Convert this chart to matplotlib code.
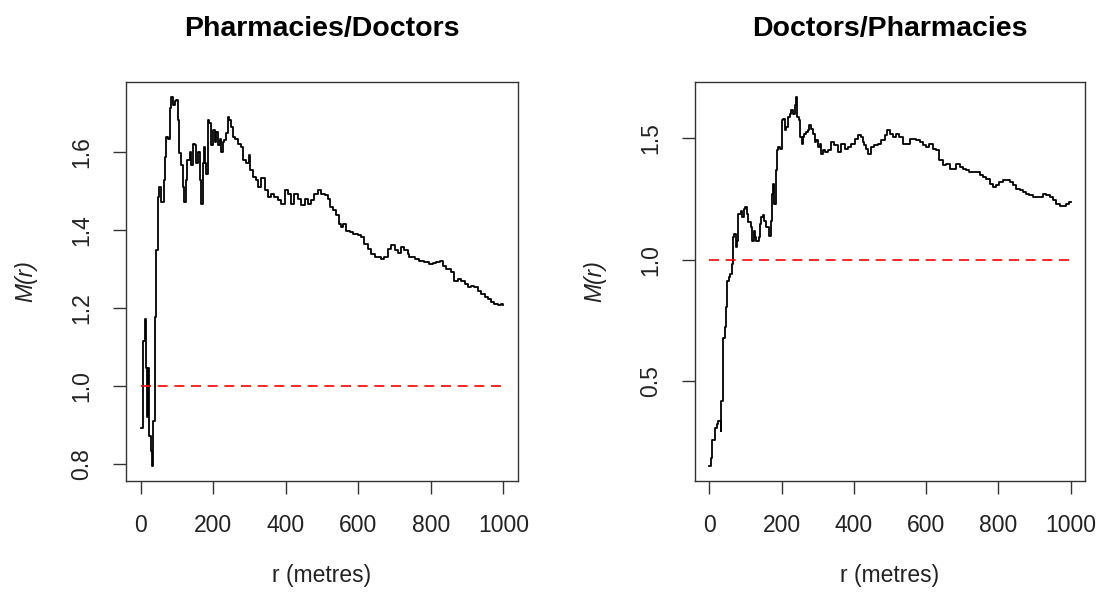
import numpy as np
import matplotlib
matplotlib.use('Agg')
import matplotlib.pyplot as plt

plt.rcParams['font.family'] = ['Liberation Sans', 'DejaVu Sans']

# Pharmacies/Doctors  M(r)
r_pd = [0, 6, 8, 13, 16, 18, 20, 22, 28, 31, 34, 39, 43, 48, 52, 57, 64, 68, 71, 77, 80, 85, 89,
        94, 98, 103, 106, 112, 117, 121, 124, 129, 135, 138, 144, 149, 153, 158, 163, 167, 172,
        174, 178, 181, 186, 190, 195, 199, 204, 208, 213, 218, 222, 227, 231, 236, 241, 245, 250,
        254, 259, 268, 277, 282, 291, 300, 303, 310, 319, 323, 332, 342, 351, 360, 369, 378, 388,
        397, 406, 415, 424, 433, 443, 452, 461, 470, 479, 488, 498, 507, 516, 521, 530, 539, 548,
        553, 557, 567, 576, 585, 599, 608, 617, 626, 635, 645, 654, 663, 672, 681, 690, 700, 709,
        718, 727, 736, 741, 755, 768, 782, 796, 805, 815, 824, 833, 842, 856, 865, 874, 883, 893,
        902, 911, 920, 929, 938, 948, 957, 966, 975, 984, 993, 1000]
m_pd = [0.891, 0.891, 1.116, 1.171, 1.047, 0.919, 1.047, 0.871, 0.833, 0.794, 0.910, 1.176, 1.347,
        1.484, 1.510, 1.471, 1.527, 1.587, 1.638, 1.634, 1.711, 1.741, 1.720, 1.731, 1.733, 1.681,
        1.596, 1.566, 1.510, 1.471, 1.527, 1.578, 1.600, 1.566, 1.621, 1.617, 1.570, 1.600, 1.527,
        1.467, 1.570, 1.613, 1.570, 1.544, 1.681, 1.673, 1.617, 1.656, 1.625, 1.651, 1.617, 1.634,
        1.600, 1.625, 1.630, 1.647, 1.690, 1.681, 1.664, 1.638, 1.634, 1.621, 1.613, 1.578, 1.570,
        1.591, 1.553, 1.536, 1.527, 1.510, 1.532, 1.501, 1.484, 1.493, 1.484, 1.476, 1.467, 1.501,
        1.493, 1.467, 1.493, 1.480, 1.463, 1.480, 1.467, 1.476, 1.493, 1.503, 1.493, 1.488, 1.480,
        1.458, 1.450, 1.437, 1.416, 1.407, 1.416, 1.398, 1.394, 1.390, 1.386, 1.381, 1.364, 1.351,
        1.338, 1.330, 1.330, 1.326, 1.330, 1.351, 1.360, 1.347, 1.340, 1.356, 1.347, 1.338, 1.330,
        1.326, 1.321, 1.317, 1.313, 1.314, 1.317, 1.321, 1.308, 1.300, 1.291, 1.270, 1.274, 1.270,
        1.261, 1.253, 1.257, 1.253, 1.244, 1.236, 1.227, 1.223, 1.214, 1.210, 1.206, 1.210, 1.206]

# Doctors/Pharmacies  M(r)
r_dp = [0, 5, 7, 12, 16, 21, 25, 31, 32, 37, 42, 46, 49, 55, 58, 62, 66, 69, 73, 77, 80, 86, 90,
        95, 99, 104, 108, 114, 117, 123, 127, 130, 136, 139, 143, 148, 152, 157, 162, 166, 171,
        174, 176, 180, 184, 187, 191, 195, 200, 204, 208, 212, 217, 222, 226, 231, 236, 240, 243,
        247, 252, 256, 260, 263, 268, 272, 277, 282, 286, 291, 296, 300, 305, 309, 314, 319, 328,
        337, 346, 356, 365, 374, 383, 392, 402, 411, 420, 425, 429, 434, 440, 448, 457, 466, 476,
        485, 492, 499, 508, 517, 526, 536, 545, 554, 563, 573, 582, 591, 600, 609, 619, 628, 637,
        646, 656, 665, 674, 683, 693, 702, 711, 720, 730, 739, 748, 757, 766, 776, 785, 794, 803,
        813, 822, 831, 840, 850, 859, 868, 877, 886, 896, 905, 914, 923, 933, 942, 951, 960, 970,
        979, 988, 997, 1000]
m_dp = [0.149, 0.183, 0.259, 0.259, 0.307, 0.321, 0.335, 0.294, 0.418, 0.679, 0.721, 0.803, 0.913,
        0.927, 0.941, 0.982, 1.092, 1.106, 1.051, 1.078, 1.188, 1.202, 1.174, 1.209, 1.216, 1.188,
        1.154, 1.134, 1.078, 1.120, 1.092, 1.078, 1.092, 1.147, 1.175, 1.182, 1.161, 1.134, 1.134,
        1.099, 1.161, 1.271, 1.313, 1.230, 1.368, 1.450, 1.464, 1.457, 1.574, 1.581, 1.533, 1.547,
        1.588, 1.602, 1.616, 1.602, 1.636, 1.671, 1.588, 1.574, 1.505, 1.478, 1.505, 1.519, 1.526,
        1.533, 1.554, 1.540, 1.519, 1.485, 1.492, 1.464, 1.478, 1.437, 1.450, 1.444, 1.450, 1.485,
        1.471, 1.444, 1.478, 1.457, 1.464, 1.478, 1.499, 1.512, 1.505, 1.485, 1.471, 1.457, 1.437,
        1.464, 1.471, 1.478, 1.492, 1.512, 1.533, 1.519, 1.506, 1.519, 1.506, 1.478, 1.478, 1.499,
        1.499, 1.492, 1.485, 1.471, 1.464, 1.478, 1.457, 1.450, 1.409, 1.389, 1.395, 1.375, 1.375,
        1.395, 1.382, 1.375, 1.368, 1.361, 1.361, 1.361, 1.347, 1.340, 1.333, 1.313, 1.299, 1.306,
        1.320, 1.327, 1.329, 1.320, 1.306, 1.292, 1.285, 1.278, 1.272, 1.265, 1.258, 1.258, 1.258,
        1.272, 1.265, 1.258, 1.244, 1.230, 1.223, 1.223, 1.230, 1.237, 1.237]

titles = ['Pharmacies/Doctors', 'Doctors/Pharmacies']
yticks = [[0.8, 1.0, 1.2, 1.4, 1.6], [0.5, 1.0, 1.5]]
xticks = [0, 200, 400, 600, 800, 1000]
ref_level = 1.0

fig = plt.figure(figsize=(10.99, 5.95), dpi=100)
W, H = 1099, 595
# axes boxes in pixels (left, right, top, bottom)
boxes = [(126, 518, 82, 481), (695, 1085, 82, 481)]

for i, (r, m) in enumerate([(r_pd, m_pd), (r_dp, m_dp)]):
    l, rr, t, b = boxes[i]
    ax = fig.add_axes([l / W, 1 - b / H, (rr - l) / W, (b - t) / H])
    r = np.array(r)
    m = np.array(m)
    ax.plot(r, m, color='black', lw=1.3, drawstyle='steps-post')
    ax.hlines(ref_level, r.min(), r.max(), colors='red', linestyles=(0, (6, 4)), lw=1.2)

    span = m.max() - m.min()
    ax.set_ylim(m.min() - 0.04 * span, m.max() + 0.04 * span)
    ax.set_xlim(-40, 1040)
    ax.set_xticks(xticks)
    ax.set_yticks(yticks[i])
    ax.set_yticklabels(['%.1f' % v for v in yticks[i]], rotation=90, va='center')
    ax.tick_params(direction='out', length=9.5, width=1, labelsize=16.5, pad=14,
                   color='#333333', labelcolor='#222222')
    for s in ax.spines.values():
        s.set_color('#333333')
        s.set_linewidth(1)

    ax.set_title(titles[i], fontsize=20.5, fontweight='bold', pad=33)
    ax.set_xlabel('r (metres)', fontsize=16.5, color='#222222', labelpad=20)
    ax.set_ylabel('M(r)', fontsize=16.5, fontstyle='italic', color='#222222', labelpad=24)

fig.savefig('out.png', dpi=100)
